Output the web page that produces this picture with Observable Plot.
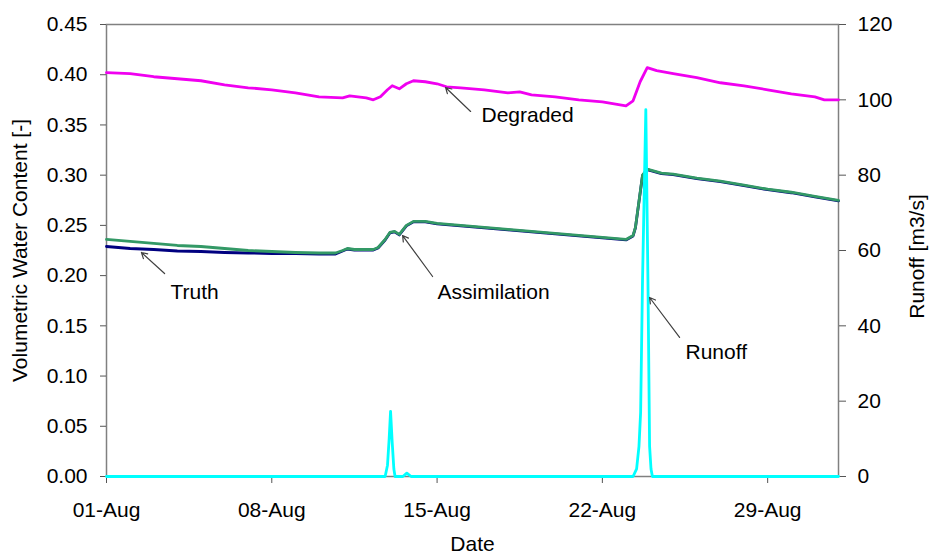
<!DOCTYPE html>
<html>
<head>
<meta charset="utf-8">
<script src="https://cdn.jsdelivr.net/npm/d3@7"></script>
<script src="https://cdn.jsdelivr.net/npm/@observablehq/plot@0.6"></script>
<style>
  html, body { margin: 0; padding: 0; background: #fff; }
  #chart { width: 930px; height: 559px; }
</style>
</head>
<body>
<div id="chart"></div>
<script>
// ---- Data (day offset from 01-Aug, value) ----
const degraded = [
  [0,0.402],[1,0.401],[2,0.398],[3,0.396],[4,0.394],[5,0.390],[6,0.387],[7,0.385],
  [8,0.382],[9,0.378],[10,0.377],[10.3,0.379],[11,0.377],[11.3,0.375],[11.6,0.378],
  [11.9,0.385],[12.1,0.389],[12.4,0.386],[12.7,0.391],[13.0,0.394],[13.5,0.393],
  [14.0,0.391],[14.4,0.388],[15,0.387],[16,0.385],[17,0.382],[17.5,0.383],[18,0.380],
  [19,0.378],[20,0.375],[21,0.373],[22.0,0.369],[22.3,0.374],[22.6,0.393],[22.9,0.407],
  [23.3,0.404],[24,0.401],[25,0.397],[26,0.392],[27,0.389],[28,0.385],[29,0.381],
  [30,0.378],[30.4,0.375],[31,0.375]
];
const truth = [
  [0,0.229],[1,0.227],[2,0.226],[3,0.2245],[4,0.224],[5,0.223],[6,0.2225],[7,0.222],
  [8,0.2218],[9,0.2215],[9.7,0.2215],[10.0,0.2245],[10.2,0.2265],[10.5,0.2255],[11.0,0.2255],
  [11.3,0.2255],[11.5,0.2275],[11.8,0.2355],[12.0,0.2425],[12.2,0.2435],[12.4,0.2405],
  [12.7,0.2495],[13.0,0.2535],[13.5,0.2535],[14,0.2515],[15,0.2495],[16,0.2475],[17,0.2455],
  [18,0.2435],[19,0.2415],[20,0.2395],[21,0.2375],[22.0,0.2355],[22.3,0.2395],[22.4,0.2475],
  [22.7,0.2995],[22.9,0.3055],[23.5,0.3015],[24,0.3005],[25,0.2965],[26,0.2935],[27,0.2895],
  [28,0.2855],[29,0.2825],[30,0.2785],[31,0.2745]
];
const assimilation = [
  [0,0.236],[1,0.234],[2,0.232],[3,0.230],[4,0.229],[5,0.227],[6,0.225],[7,0.224],
  [8,0.223],[9,0.2225],[9.7,0.2225],[10.0,0.225],[10.2,0.227],[10.5,0.226],[11.0,0.226],
  [11.3,0.226],[11.5,0.228],[11.8,0.236],[12.0,0.243],[12.2,0.244],[12.4,0.241],
  [12.7,0.250],[13.0,0.254],[13.5,0.254],[14,0.252],[15,0.250],[16,0.248],[17,0.246],
  [18,0.244],[19,0.242],[20,0.240],[21,0.238],[22.0,0.236],[22.3,0.240],[22.4,0.248],
  [22.7,0.300],[22.9,0.306],[23.5,0.302],[24,0.301],[25,0.297],[26,0.294],[27,0.290],
  [28,0.286],[29,0.283],[30,0.279],[31,0.275]
];
const runoff = [
  [0,0],[11.8,0],[11.9,3],[11.97,10],[12.03,17.3],[12.1,9],[12.17,2],[12.22,0],
  [12.55,0],[12.72,0.9],[12.9,0],[22.3,0],[22.45,2],[22.55,8],[22.62,17],[22.7,52],
  [22.84,97.4],[22.93,52],[23.0,8],[23.06,2],[23.12,0],[31,0]
];
const leftTicks = [0,0.05,0.10,0.15,0.20,0.25,0.30,0.35,0.40,0.45];
const rightTicks = [0,20,40,60,80,100,120];
const dateTicks = [0,7,14,21,28];
const annotations = [
  {label:"Degraded",     tx:15.88, ty:0.3594, x1:15.42, y1:0.3634, x2:14.36, y2:0.3873},
  {label:"Truth",        tx:2.71,  ty:0.1832, x1:2.46,  y1:0.2021, x2:1.48,  y2:0.2230},
  {label:"Assimilation", tx:14.02, ty:0.1832, x1:13.81, y1:0.1991, x2:12.54, y2:0.2399},
  {label:"Runoff",       tx:24.52, ty:0.1235, x1:24.27, y1:0.1384, x2:23.00, y2:0.1782}
];

// ---- helpers ----
const t0 = Date.UTC(2003, 7, 1);
const day = d => new Date(t0 + d * 864e5);
const k = 0.45 / 120; // runoff -> left-axis units
const fmtDate = d3.utcFormat("%d-%b");

const chart = Plot.plot({
  width: 930,
  height: 559,
  marginLeft: 106,
  marginRight: 92,
  marginTop: 24,
  marginBottom: 83,
  style: {fontFamily: "'Liberation Sans', Arial, sans-serif", fontSize: "21px", background: "#fff", color: "#000", overflow: "visible"},
  x: {type: "utc", domain: [day(0), day(31)]},
  y: {domain: [0, 0.45]},
  marks: [
    Plot.frame({stroke: "#808080", strokeWidth: 1.5}),
    Plot.axisY({ticks: leftTicks, tickFormat: d3.format(".2f"), tickSize: 6, tickPadding: 13, label: null, stroke: "#555"}),
    Plot.axisY({anchor: "right", ticks: rightTicks.map(r => r * k), tickFormat: v => String(Math.round(v / k)), tickSize: 7, tickPadding: 12, label: null, stroke: "#555"}),
    Plot.axisX({ticks: dateTicks.map(day), tickFormat: fmtDate, tickSize: 7, tickPadding: 19, label: null, stroke: "#555"}),
    Plot.text(["Volumetric Water Content [-]"], {frameAnchor: "left", textAnchor: "middle", dx: -86, rotate: -90, fontSize: 21}),
    Plot.text(["Runoff [m3/s]"], {frameAnchor: "right", textAnchor: "middle", dx: 79, dy: 6, rotate: -90, fontSize: 21}),
    Plot.text(["Date"], {frameAnchor: "bottom", dy: 74, fontSize: 21}),
    Plot.line(degraded, {x: d => day(d[0]), y: d => d[1], stroke: "#F000F0", strokeWidth: 2.8}),
    Plot.line(truth, {x: d => day(d[0]), y: d => d[1], stroke: "#000080", strokeWidth: 2.8}),
    Plot.line(assimilation, {x: d => day(d[0]), y: d => d[1], stroke: "#339966", strokeWidth: 2.8}),
    Plot.line(runoff, {x: d => day(d[0]), y: d => d[1] * k, stroke: "#00FFFF", strokeWidth: 2.8}),
    Plot.arrow(annotations, {x1: d => day(d.x1), y1: "y1", x2: d => day(d.x2), y2: "y2", stroke: "#404040", strokeWidth: 1.2, headLength: 8, bend: 0}),
    Plot.text(annotations, {x: d => day(d.tx), y: "ty", text: "label", textAnchor: "start", fontSize: 21})
  ]
});
document.getElementById("chart").appendChild(chart);
</script>
</body>
</html>
